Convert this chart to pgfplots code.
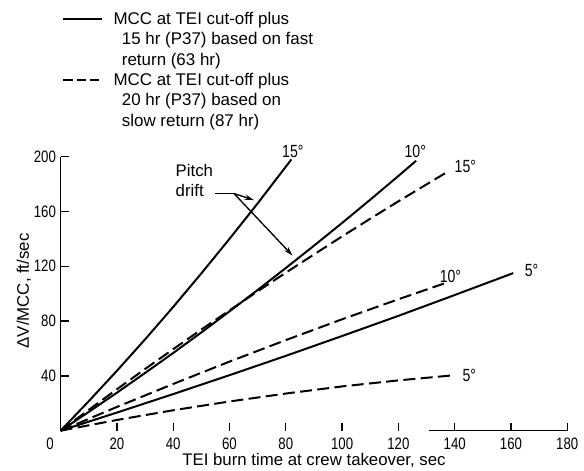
\documentclass[border=0pt]{standalone}
\usepackage{pgfplots}
\pgfplotsset{compat=1.18}
\usepackage{fontspec}
\setmainfont{Liberation Sans}
\newfontfamily\narrowfont[FakeStretch=0.8]{Liberation Sans}
\usetikzlibrary{arrows.meta}
\newcommand{\tickfont}{\narrowfont\fontsize{12.4}{14}\selectfont}
\newcommand{\labfont}{\fontsize{12.6}{15}\selectfont}
\newcommand{\legfont}{\fontsize{12.7}{15}\selectfont}
\newcommand{\degfont}{\narrowfont\fontsize{13.2}{15}\selectfont}
\begin{document}
\begin{tikzpicture}
\useasboundingbox (-45.45pt,-30.2pt) rectangle (392.55pt,323pt);
\begin{axis}[
  at={(0,0)}, anchor=south west,
  scale only axis, width=380pt, height=205.5pt,
  xmin=0, xmax=180, ymin=0, ymax=200,
  axis x line=bottom, axis y line=left,
  axis line style={-, line width=1.2pt},
  x axis line style={draw=none},
  xtick={20,40,...,180}, ytick={40,80,...,200},
  tick align=inside, major tick length=6pt,
  tick style={line width=1pt, black},
  /pgf/number format/assume math mode=true,
  ticklabel style={font=\tickfont},
  xticklabel style={anchor=center, yshift=-10pt},
  xlabel={TEI burn time at crew takeover, sec},
  ylabel={ΔV/MCC, ft/sec},
  label style={font=\labfont},
  xlabel style={at={([yshift=-22.5pt]axis description cs:0.5,0)}, anchor=center},
  ylabel style={at={([xshift=-27.5pt]axis description cs:0,0.51)}, anchor=center},
  clip=false,
  solid/.style={black, line width=1.5pt, line join=round},
  dsh/.style={black, line width=1.5pt, line join=round, dash pattern=on 9pt off 4pt},
]
% solid: MCC +15 hr, fast return
\addplot[solid] coordinates {(0,0) (10,21.5) (20,43.7) (30,66.6) (40,90.3) (50,114.8) (60,140) (70,165.9) (82,198)};
\addplot[solid] coordinates {(0,0) (10,13.7) (20,27.7) (30,42.1) (40,56.7) (50,71.7) (60,87.1) (70,102.7) (80,118.7) (90,135) (100,151.6) (110,168.6) (120,185.9) (126.3,197)};
\addplot[solid] coordinates {(0,0) (20,13.2) (40,26.7) (60,40.5) (80,54.6) (100,69.1) (120,83.8) (140,99) (160.8,115)};
% dashed: MCC +20 hr, slow return
\addplot[dsh] coordinates {(0,0) (10,15.2) (20,30.2) (30,45.0) (40,59.5) (50,73.8) (60,87.8) (70,101.7) (80,115.3) (90,128.6) (100,141.8) (110,154.7) (120,167.4) (137,188.4)};
\addplot[dsh] coordinates {(0,0) (20,17.3) (40,34.1) (60,50.4) (80,66.1) (100,81.3) (120,95.9) (137.6,108.4)};
\addplot[dsh] coordinates {(0,0) (20,7.8) (40,14.9) (60,21.3) (80,27.1) (100,32.3) (120,36.7) (140,40.5)};

% partial x axis line
\draw[line width=1.2pt] (axis cs:131,0) -- (axis cs:180,0);
\node[font=\tickfont, anchor=center] at ([xshift=-8pt,yshift=-10pt]axis cs:0,0) {0};

% curve labels
\node[font=\degfont] at (axis cs:82.5,204) {15°};
\node[font=\degfont] at (axis cs:126,204) {10°};
\node[font=\degfont] at (axis cs:143.8,192.5) {15°};
\node[font=\degfont] at (axis cs:167.3,116.9) {5°};
\node[font=\degfont] at (axis cs:138.5,112.5) {10°};
\node[font=\degfont] at (axis cs:145.2,40.5) {5°};

% pitch drift annotation
\node[font=\labfont, anchor=mid west, inner sep=0] at (axis cs:40.8,188.1) {Pitch};
\node[font=\labfont, anchor=mid west, inner sep=0] at (axis cs:40.8,173.6) {drift};
\draw[line width=1pt] (axis cs:55,173.1) -- (axis cs:61.6,173.1);
\draw[line width=1pt, -{Stealth[length=7pt,width=4pt]}] (axis cs:61.6,173.1) -- (axis cs:68.7,168.3);
\draw[line width=1pt, -{Stealth[length=7pt,width=4pt]}] (axis cs:61.6,173.1) -- (axis cs:82.4,127.8);
\end{axis}

% legend
\draw[line width=1.5pt] (2.0pt,308.8pt) -- (30.8pt,308.8pt);
\draw[line width=1.5pt, dash pattern=on 7pt off 3pt] (2.0pt,263.0pt) -- (32.0pt,263.0pt);
\begin{scope}[every node/.style={font=\legfont, anchor=mid west, inner sep=0}]
\node at (39.5pt,307.5pt) {MCC at TEI cut-off plus};
\node at (45.8pt,292.3pt) {15 hr (P37) based on fast};
\node at (45.8pt,276.75pt) {return (63 hr)};
\node at (39.5pt,261.75pt) {MCC at TEI cut-off plus};
\node at (45.8pt,246.75pt) {20 hr (P37) based on};
\node at (45.8pt,230.55pt) {slow return (87 hr)};
\end{scope}
\end{tikzpicture}
\end{document}
